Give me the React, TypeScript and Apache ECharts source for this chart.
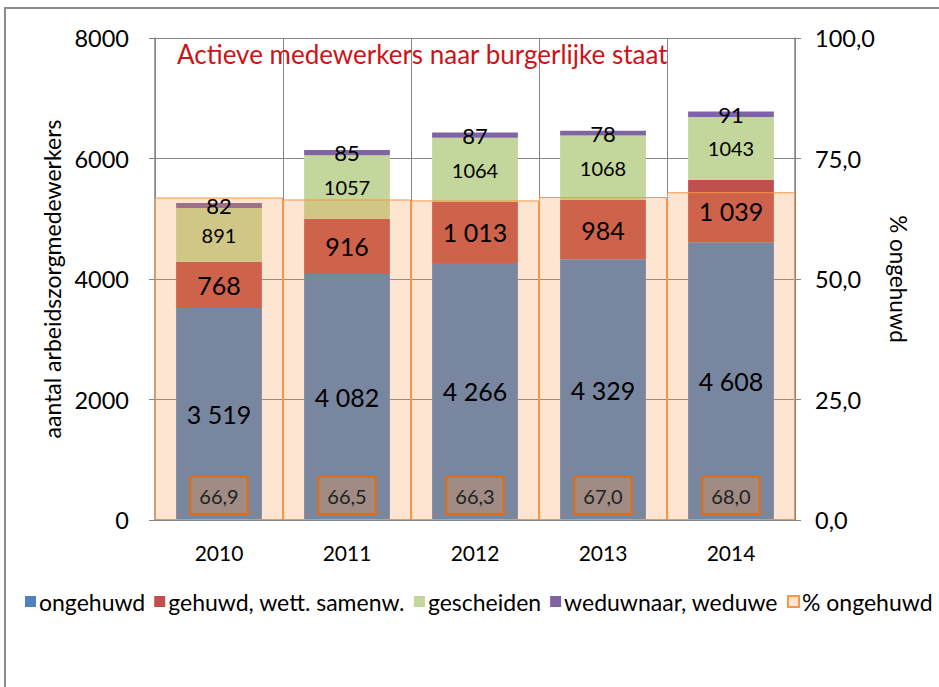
import React, { useEffect, useRef } from "react";
import * as echarts from "echarts";

const categories = ["2010", "2011", "2012", "2013", "2014"];
const ongehuwd = [3519, 4082, 4266, 4329, 4608];
const gehuwd = [768, 916, 1013, 984, 1039];
const gescheiden = [891, 1057, 1064, 1068, 1043];
const weduwnaar = [82, 85, 87, 78, 91];
const pctOngehuwd = [66.9, 66.5, 66.3, 67.0, 68.0];
const leftAxis = { min: 0, max: 8000, interval: 2000 };
const rightAxis = { min: 0, max: 100, interval: 25 };

const FONT = "Lato";
const spaced = (n: number) => String(n).replace(/\B(?=(\d{3})+(?!\d))/g, " ");
const comma1 = (n: number) => n.toFixed(1).replace(".", ",");

export default function App() {
  const ref = useRef<HTMLDivElement>(null);
  useEffect(() => {
    document.body.style.margin = "0";
    const chart = echarts.init(ref.current!, null, { renderer: "svg" });
    const gap = "33%";
    const stackDefs = [
      { name: "ongehuwd", data: ongehuwd, color: "#4F81BD", size: 25, fmt: spaced },
      { name: "gehuwd, wett. samenw.", data: gehuwd, color: "#C0504D", size: 25, fmt: spaced },
      { name: "gescheiden", data: gescheiden, color: "#C3D69B", size: 20, fmt: (n: number) => String(n) },
      { name: "weduwnaar, weduwe", data: weduwnaar, color: "#8064A2", size: 22, fmt: (n: number) => String(n) },
    ];
    const mainSeries = stackDefs.map((d) => ({
      name: d.name,
      type: "bar",
      stack: "a",
      xAxisIndex: 0,
      yAxisIndex: 0,
      barCategoryGap: gap,
      data: d.data,
      z: 2,
      itemStyle: { color: d.color },
    }));
    const labelSeries = stackDefs.map((d) => ({
      name: "lbl_" + d.name,
      type: "bar",
      stack: "lbl",
      xAxisIndex: 2,
      yAxisIndex: 0,
      barCategoryGap: gap,
      data: d.data,
      z: 5,
      silent: true,
      itemStyle: { color: "rgba(0,0,0,0)" },
      label: {
        show: true,
        position: "inside",
        color: "#000",
        fontFamily: FONT,
        fontSize: d.size,
        formatter: (p: any) => d.fmt(p.value),
      },
    }));
    const overlay = {
      name: "% ongehuwd",
      type: "bar",
      xAxisIndex: 1,
      yAxisIndex: 1,
      barWidth: "100%",
      data: pctOngehuwd,
      z: 3,
      itemStyle: { color: "rgba(247,150,70,0.25)", borderColor: "#F79646", borderWidth: 1 },
      label: {
        show: true,
        position: "insideBottom",
        distance: 7,
        color: "#222",
        fontFamily: FONT,
        fontSize: 20,
        backgroundColor: "#A08B85",
        borderColor: "#E46C0A",
        borderWidth: 2,
        padding: [8, 8, 7, 8],
        formatter: (p: any) => comma1(p.value),
      },
    };
    const xBase = {
      type: "category",
      data: categories,
    };
    chart.setOption({
      animation: false,
      textStyle: { fontFamily: FONT },
      title: {
        text: "Actieve medewerkers naar burgerlijke staat",
        left: 172,
        top: 36,
        textStyle: { color: "#CC1418", fontSize: 26, fontWeight: "normal", fontFamily: FONT },
      },
      graphic: [
        {
          type: "polyline",
          shape: { points: [[5, 687], [5, 8], [939, 8]] },
          style: { stroke: "#8C8C8C", lineWidth: 2, fill: "none" },
          silent: true,
        },
      ],
      legend: {
        data: stackDefs.map((d) => d.name).concat(["% ongehuwd"]),
        left: 20,
        top: 585,
        itemWidth: 11,
        itemHeight: 11,
        itemGap: 9,
        icon: "rect",
        textStyle: { fontFamily: FONT, fontSize: 23, color: "#000", padding: [0, 0, 0, -2] },
      },
      grid: { left: 155, right: 144, top: 38, bottom: 167 },
      xAxis: [
        {
          ...xBase,
          axisLine: { show: true, lineStyle: { color: "#868686", width: 1.5 } },
          axisTick: { show: false },
          splitLine: { show: true, lineStyle: { color: "#868686", width: 1 } },
          axisLabel: { color: "#000", fontSize: 21, fontFamily: FONT, margin: 22 },
        },
        { ...xBase, show: false },
        { ...xBase, show: false },
      ],
      yAxis: [
        {
          type: "value",
          ...leftAxis,
          name: "aantal arbeidszorgmedewerkers",
          nameLocation: "middle",
          nameGap: 78,
          nameRotate: 90,
          nameTextStyle: { color: "#000", fontSize: 23, fontFamily: FONT },
          axisLine: { show: true, lineStyle: { color: "#868686", width: 1.5 } },
          axisTick: { show: true, length: 6, lineStyle: { color: "#868686" } },
          splitLine: { show: true, lineStyle: { color: "#868686", width: 1 } },
          axisLabel: {
            color: "#000",
            fontSize: 23.5,
            fontFamily: FONT,
            margin: 26,
            formatter: (v: number) => String(v),
          },
        },
        {
          type: "value",
          ...rightAxis,
          position: "right",
          name: "% ongehuwd",
          nameLocation: "middle",
          nameGap: 92,
          nameRotate: -90,
          nameTextStyle: { color: "#000", fontSize: 22.5, fontFamily: FONT },
          axisLine: { show: true, lineStyle: { color: "#868686", width: 1.5 } },
          axisTick: { show: true, length: 6, lineStyle: { color: "#868686" } },
          splitLine: { show: false },
          axisLabel: {
            color: "#000",
            fontSize: 23.5,
            fontFamily: FONT,
            margin: 20,
            formatter: (v: number) => comma1(v),
          },
        },
      ],
      series: [...mainSeries, overlay, ...labelSeries],
    });
    return () => chart.dispose();
  }, []);
  return <div ref={ref} style={{ width: 939, height: 687 }} />;
}
